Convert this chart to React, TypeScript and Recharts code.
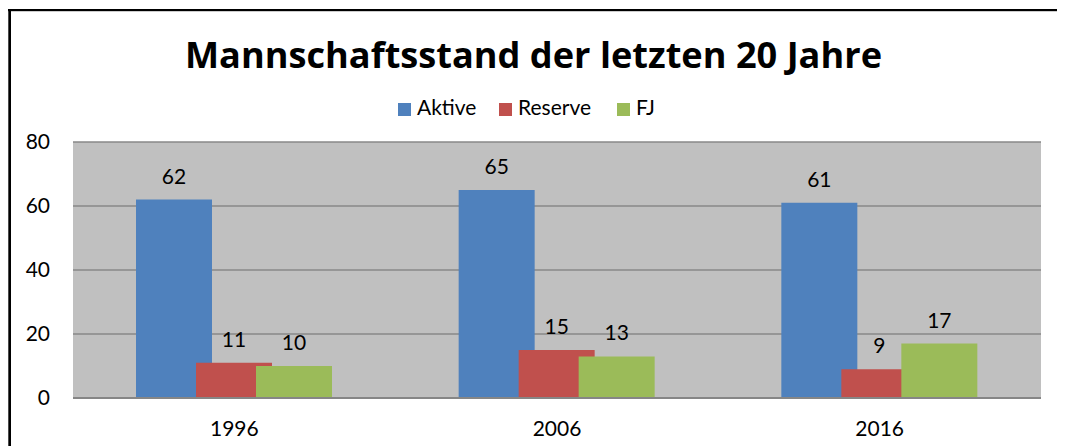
import React from 'react';
import { BarChart, Bar, XAxis, YAxis, CartesianGrid, LabelList, Customized } from 'recharts';

const years = ['1996', '2006', '2016'];
const aktive = [62, 65, 61];
const reserve = [11, 15, 9];
const fj = [10, 13, 17];
const yTicks = [0, 20, 40, 60, 80];
const title = 'Mannschaftsstand der letzten 20 Jahre';
const seriesNames = ['Aktive', 'Reserve', 'FJ'];
const seriesColors = ['#4f81bd', '#c0504d', '#9bbb59'];

const data = years.map((y, i) => ({ year: y, Aktive: aktive[i], Reserve: reserve[i], FJ: fj[i] }));

const FONT = 'Lato, "Open Sans", sans-serif';
const TITLE_FONT = '"Open Sans", Lato, sans-serif';
const W = 1049;
const H = 438;

const Decorations = () => {
  const legendX = [390, 491, 609];
  return (
    <g>
      <rect x={0} y={1} width={W + 8} height={2.2} fill="#000" />
      <rect x={0.3} y={1} width={2.7} height={H} fill="#000" />
      <text
        x={525.5}
        y={60}
        textAnchor="middle"
        fontFamily={TITLE_FONT}
        fontWeight="bold"
        fontSize={35.5}
        textLength={697}
        lengthAdjust="spacingAndGlyphs"
        fill="#000"
      >
        {title}
      </text>
      {seriesNames.map((n, i) => (
        <g key={n}>
          <rect x={legendX[i]} y={95} width={13} height={13} fill={seriesColors[i]} />
          <text x={legendX[i] + 19} y={107} fontFamily={FONT} fontSize={21} fill="#000">
            {n}
          </text>
        </g>
      ))}
    </g>
  );
};

const XTick = (props: any) => {
  const { x, y, payload } = props;
  return (
    <text x={x} y={y + 38} textAnchor="middle" fontFamily={FONT} fontSize={21} fill="#000">
      {payload.value}
    </text>
  );
};

export default function App() {
  return (
    <BarChart
      width={W}
      height={H}
      data={data}
      margin={{ top: 134, right: 16, bottom: 0, left: 0 }}
      barSize={76}
      barGap={-16}
      style={{ overflow: 'visible' }}
    >
      <CartesianGrid vertical={false} fill="#c0c0c0" stroke="#888888" strokeWidth={1.5} />
      <XAxis
        dataKey="year"
        height={48}
        tickLine={false}
        tickSize={0}
        tickMargin={0}
        axisLine={{ stroke: '#868686', strokeWidth: 2 }}
        tick={<XTick />}
      />
      <YAxis
        width={65}
        domain={[0, 80]}
        ticks={yTicks}
        axisLine={false}
        tickLine={false}
        tickSize={0}
        tickMargin={23}
        tick={{ fontFamily: FONT, fontSize: 21, fill: '#000' }}
      />
      <Bar dataKey="Aktive" fill={seriesColors[0]} isAnimationActive={false}>
        <LabelList dataKey="Aktive" position="top" offset={16} fontFamily={FONT} fontSize={21} fill="#000" />
      </Bar>
      <Bar dataKey="Reserve" fill={seriesColors[1]} isAnimationActive={false}>
        <LabelList dataKey="Reserve" position="top" offset={16} fontFamily={FONT} fontSize={21} fill="#000" />
      </Bar>
      <Bar dataKey="FJ" fill={seriesColors[2]} isAnimationActive={false}>
        <LabelList dataKey="FJ" position="top" offset={16} fontFamily={FONT} fontSize={21} fill="#000" />
      </Bar>
      <Customized component={Decorations} />
    </BarChart>
  );
}
